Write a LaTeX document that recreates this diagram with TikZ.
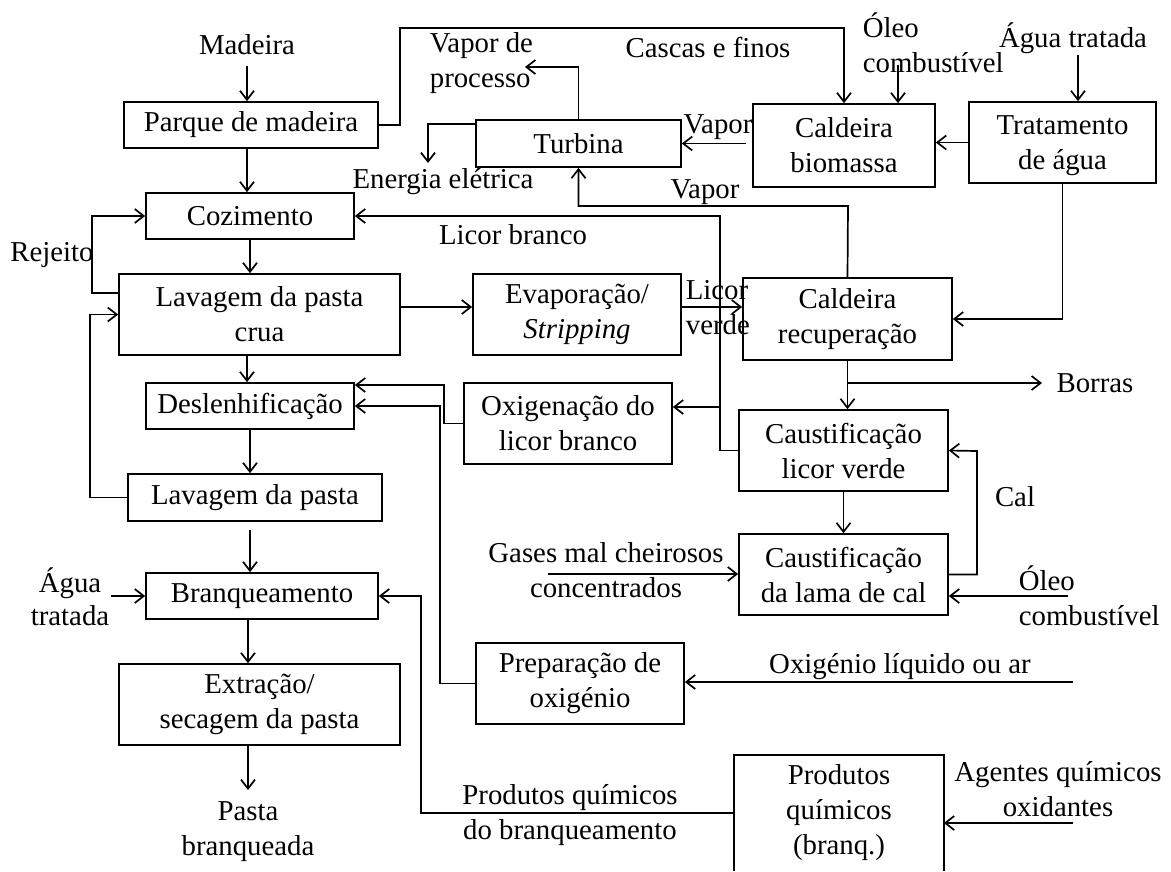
\documentclass[tikz,border=0pt]{standalone}
\usepackage{fontspec}
\setmainfont{Liberation Serif}
\usetikzlibrary{arrows.meta}

\tikzset{
  box/.style={draw, align=center, inner sep=0pt},
  lbl/.style={align=center, inner sep=1pt},
}

\begin{document}
\begin{tikzpicture}[x=1pt,y=-1pt,>={Straight Barb[length=9pt,width=14pt]},
  line width=1.7pt,font=\fontsize{28.8}{35}\selectfont]
  \useasboundingbox (0,0) rectangle (1171,871);
  % pulp line (left column)
  \node[box,minimum width=254,minimum height=46] (parque)   at (251,125)   {Parque de madeira};
  \node[box,minimum width=208,minimum height=46] (coz)      at (250,216)   {Cozimento};
  \node[box,minimum width=281,minimum height=81] (lavcrua)  at (259.5,314.5) {Lavagem da pasta\\crua};
  \node[box,minimum width=208,minimum height=46] (desl)     at (250,406)   {Deslenhificação};
  \node[box,minimum width=254,minimum height=47] (lavpasta) at (255,497.5) {Lavagem da pasta};
  \node[box,minimum width=232,minimum height=46] (branq)    at (262,596)   {Branqueamento};
  \node[box,minimum width=281,minimum height=81] (extr)     at (259.5,704.5) {Extração/\\secagem da pasta};
  % middle column
  \node[box,minimum width=205,minimum height=47] (turbina)  at (578.5,143.5) {Turbina};
  \node[box,minimum width=208,minimum height=81] (evap)     at (577,314.5) {Evaporação/\\\textit{Stripping}};
  \node[box,minimum width=208,minimum height=81] (oxig)     at (568,423.5) {Oxigenação do\\licor branco};
  \node[box,minimum width=208,minimum height=81] (prepox)   at (580,683.5) {Preparação de\\oxigénio};
  % right column
  \node[box,minimum width=182,minimum height=83] (caldbio)  at (844,145.5) {Caldeira\\biomassa};
  \node[box,minimum width=187,minimum height=81] (trat)     at (1062.5,142.5) {\strut Tratamento\\de água};
  \node[box,minimum width=209,minimum height=82] (caldrec)  at (847.5,319) {Caldeira\\recuperação};
  \node[box,minimum width=209,minimum height=81] (caustlv)  at (843.5,450.5) {Caustificação\\licor verde};
  \node[box,minimum width=209,minimum height=81] (caustlc)  at (843.5,574.5) {Caustificação\\da lama de cal};
  \node[lbl,inner sep=0pt,minimum width=208,minimum height=114] (prodq) at (839,813) {Produtos\\químicos\\(branq.)};
  \draw (prodq.south west) -- (prodq.north west) -- (prodq.north east) -- (prodq.south east);

  % labels
  \node[lbl] (madeira) at (247,45) {Madeira};
  \node[lbl] (pastabr) at (248,832) {Pasta\\branqueada};
  \node[lbl,font=\fontsize{28.8}{33}\selectfont] (aguat1) at (70,597) {Água\\tratada};
  \node[lbl] (rejeito) at (52,255) {Rejeito};
  \node[lbl,align=left,anchor=west] (vaporproc) at (428,63) {Vapor de\\processo};
  \node[lbl] (energia) at (443,182) {Energia elétrica};
  \node[lbl] (cascas) at (708,47) {Cascas e finos};
  \node[lbl,align=left,anchor=west] (oleo1) at (861,43) {Óleo\\combustível};
  \node[lbl] (aguat2) at (1073,38) {Água tratada};
  \node[lbl] (vapor1) at (718,127) {Vapor};
  \node[lbl] (vapor2) at (705,192) {Vapor};
  \node[lbl] (licorbr) at (513,235) {Licor branco};
  \node[lbl,align=left,anchor=west] (licorvd) at (684,308) {Licor\\verde};
  \node[lbl] (borras) at (1095,383) {Borras};
  \node[lbl] (cal) at (1015,497) {Cal};
  \node[lbl] (gases) at (606,570) {Gases mal cheirosos\\concentrados};
  \node[lbl,align=left,anchor=west] (oleo2) at (1017,596) {Óleo\\combustível};
  \node[lbl] (oxliq) at (900,667) {Oxigénio líquido ou ar};
  \node[lbl] (prodbr) at (570,815) {Produtos químicos\\do branqueamento};
  \node[lbl] (agentes) at (1058,789) {Agentes químicos\\oxidantes};

  % turning points and free ends
  \coordinate (md)  at (247,66);
  \coordinate (rj)  at (92,293);
  \coordinate (lp)  at (90,497.5);
  \coordinate (cf)  at (400,28);
  \coordinate (o1)  at (898,65);
  \coordinate (a2)  at (1078,55);
  \coordinate (vp)  at (525,67);
  \coordinate (ee1) at (428,124);
  \coordinate (ee2) at (428,163);
  \coordinate (v2)  at (848,206);
  \coordinate (lv)  at (0,307);
  \coordinate (lb)  at (720,216);
  \coordinate (oxin) at (720,407);
  \coordinate (ox)  at (444,385);
  \coordinate (pp)  at (440,406);
  \coordinate (pq)  at (421,596);
  \coordinate (bo)  at (848,383);
  \coordinate (bo2) at (1042,383);
  \coordinate (cl)  at (977,451);
  \coordinate (gs)  at (548,574);
  \coordinate (o2)  at (1068,596);
  \coordinate (ol)  at (1073,682);
  \coordinate (ag)  at (1073,823);
  \coordinate (pa)  at (248,790);

  % pulp line arrows
  \draw[->] (md) -- (md |- parque.north);
  \draw[->] (md |- parque.south) -- (md |- coz.north);
  \draw[->] (coz.south) -- (coz.south |- lavcrua.north);
  \draw[->] (md |- lavcrua.south) -- (md |- desl.north);
  \draw[->] (desl.south) -- (desl.south |- lavpasta.north);
  \draw[->,shorten <=8pt] (desl.south |- lavpasta.south) -- (desl.south |- branq.north);
  \draw[->] (pa |- branq.south) -- (pa |- extr.north);
  \draw[->] (pa |- extr.south) -- (pa);
  \draw[->] (aguat1.east |- branq.west) -- (branq.west);
  % recycles
  \draw[->] (rj -| lavcrua.west) -- (rj) |- (coz.west);
  \draw[->] (lavpasta.west) -- (lp) |- (lavcrua.west);
  % energy
  \draw[->] (parque.east) -| (cf) -| (caldbio.north);
  \draw[->] (o1) -- (o1 |- caldbio.north);
  \draw[->] (a2) -- (a2 |- trat.north);
  \draw[->] (trat.west) -- (trat.west -| caldbio.east);
  \draw[->,shorten <=6pt] (caldbio.west |- turbina.east) -- (turbina.east);
  \draw[->] (turbina.north) |- (vp);
  \draw[->] (turbina.west |- ee1) -- (ee1) -- (ee2);
  \draw[->] (caldrec.north) -- (v2) -| (turbina.south);
  \draw[->] (trat.south) |- (caldrec.east);
  % liquor cycle
  \draw[->] (lv -| lavcrua.east) -- (lv -| evap.west);
  \draw[->] (lv -| evap.east) -- (lv -| caldrec.west);
  \draw[->] (caustlv.west) -| (lb) -- (coz.east);
  \draw[->] (oxin) -- (oxin -| oxig.east);
  \draw[->] (oxig.west) -| (ox) -- (ox -| desl.east);
  \draw[->] (prepox.west) -| (pp) -- (pp -| desl.east);
  \draw[->] (caldrec.south) -- (caldrec.south |- caustlv.north);
  \draw[->] (bo) -- (bo2);
  \draw[->] (caustlv.south) -- (caustlv.south |- caustlc.north);
  \draw[->] (caustlc.east) -| (cl) -- (caustlv.east);
  \draw[->] (gs) -- (gs -| caustlc.west);
  \draw[->] (o2) -- (o2 -| caustlc.east);
  % oxygen and bleaching chemicals
  \draw[->] (ol) -- (ol -| prepox.east);
  \draw[->] (ag) -- (ag -| prodq.east);
  \draw[->] (prodq.west) -| (pq) -- (branq.east);
\end{tikzpicture}
\end{document}
